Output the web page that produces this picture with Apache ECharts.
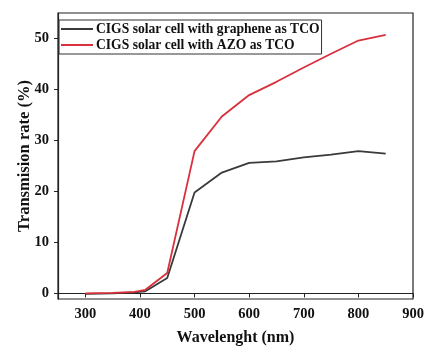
<!DOCTYPE html>
<html><head><meta charset="utf-8">
<script src="https://cdn.jsdelivr.net/npm/echarts@6/dist/echarts.min.js"></script>
<style>html,body{margin:0;padding:0;background:#fff}#c{width:425px;height:347px}</style>
</head><body><div id="c"></div>
<script>
var wavelength = [300, 350, 390, 410, 450, 500, 550, 600, 650, 700, 750, 800, 850];
var graphene = [-0.1, 0.0, 0.2, 0.4, 3.0, 19.8, 23.7, 25.6, 25.9, 26.7, 27.2, 27.9, 27.4];
var azo = [0.0, 0.1, 0.3, 0.7, 4.0, 27.9, 34.7, 38.9, 41.5, 44.3, 47.0, 49.6, 50.7];
var xTicks = [300, 400, 500, 600, 700, 800, 900];
var yTicks = [0, 10, 20, 30, 40, 50];
var seriesNames = ['CIGS solar cell with graphene as TCO', 'CIGS solar cell with AZO as TCO'];

function pairs(xs, ys) { return xs.map(function (x, i) { return [x, ys[i]]; }); }
var font = '"Liberation Serif", "Times New Roman", serif';
var chart = echarts.init(document.getElementById('c'), null, {renderer: 'canvas'});
chart.setOption({
  animation: false,
  backgroundColor: '#fff',
  grid: {left: 58, right: 12, top: 13, bottom: 48, show: true, borderColor: '#222', borderWidth: 1.2, backgroundColor: 'transparent',
         containLabel: false, outerBoundsMode: 'none'},
  legend: {
    left: 59, top: 20, orient: 'vertical', itemGap: 2,
    itemWidth: 32, itemHeight: 2,
    padding: [2, 2, 2, 2],
    borderColor: '#333', borderWidth: 1,
    icon: 'rect',
    textStyle: {fontFamily: font, fontWeight: 'bold', fontSize: 13.6, color: '#111', padding: [0, 0, 0, -2]},
    data: seriesNames
  },
  xAxis: {
    type: 'value', min: 250, max: 900,
    name: 'Wavelenght (nm)', nameLocation: 'middle', nameGap: 31, nameMoveOverlap: false,
    nameTextStyle: {fontFamily: font, fontWeight: 'bold', fontSize: 16, color: '#111'},
    axisLine: {show: true, lineStyle: {color: '#222', width: 1.2}},
    axisTick: {show: true, length: 4, inside: false, customValues: xTicks, lineStyle: {color: '#222'}},
    axisLabel: {customValues: xTicks, fontFamily: font, fontWeight: 'bold', fontSize: 14.5, color: '#111', margin: 8},
    splitLine: {show: false}
  },
  yAxis: {
    type: 'value', min: -1.1, max: 55,
    name: 'Transmision rate (%)', nameLocation: 'middle', nameGap: 25, nameMoveOverlap: false,
    nameTextStyle: {fontFamily: font, fontWeight: 'bold', fontSize: 16.5, color: '#111'},
    axisLine: {show: true, lineStyle: {color: '#222', width: 1.2}},
    axisTick: {show: true, length: 4, inside: false, customValues: yTicks, lineStyle: {color: '#222'}},
    axisLabel: {customValues: yTicks, fontFamily: font, fontWeight: 'bold', fontSize: 14.5, color: '#111', margin: 9},
    splitLine: {show: false}
  },
  series: [
    {name: seriesNames[0], type: 'line', data: pairs(wavelength, graphene), showSymbol: false, symbol: 'none',
     lineStyle: {color: '#3a3a3a', width: 1.8}, itemStyle: {color: '#3a3a3a'}},
    {name: seriesNames[1], type: 'line', data: pairs(wavelength, azo), showSymbol: false, symbol: 'none',
     lineStyle: {color: '#d9303c', width: 1.8}, itemStyle: {color: '#d9303c'}}
  ]
});
</script></body></html>
